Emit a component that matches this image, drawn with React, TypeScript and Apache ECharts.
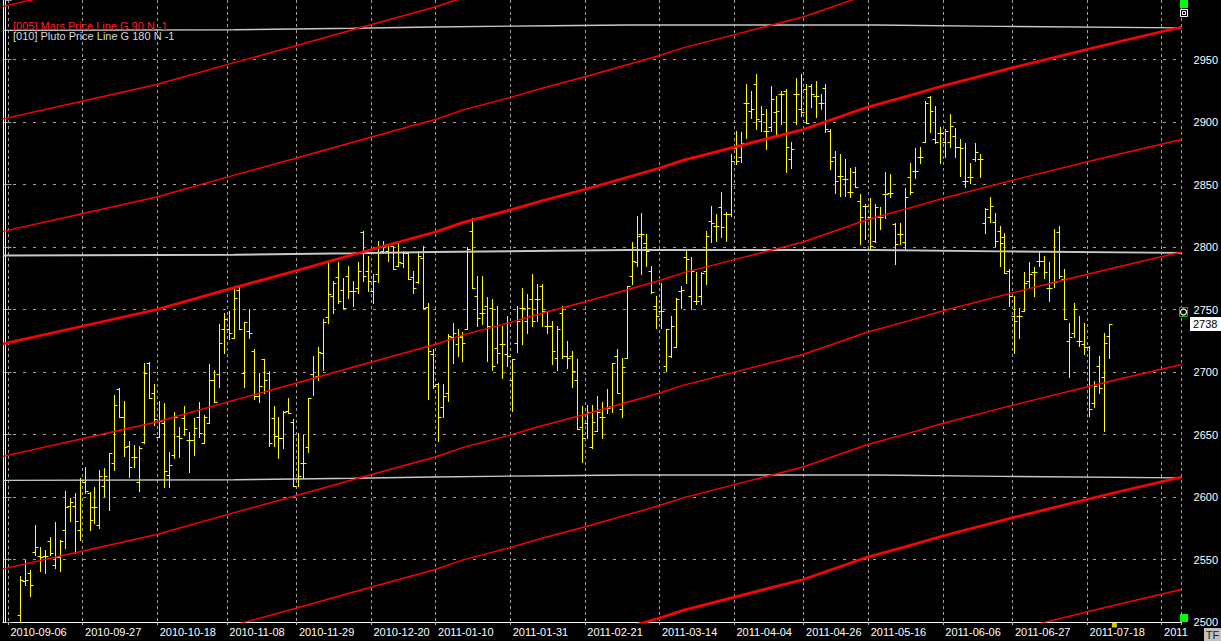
import React, { useEffect, useRef } from "react";
import * as echarts from "echarts";

// ---------- data ----------
const firstBar = 3; // slot index of the first OHLC bar
// [open, high, low, close]
const ohlc: [number, number, number, number][] = [
  [2506, 2537, 2501, 2534], [2533, 2550, 2530, 2534], [2539, 2542, 2521, 2530], [2556, 2578, 2554, 2560],
  [2553, 2560, 2541, 2552], [2553, 2558, 2539, 2553], [2565, 2568, 2554, 2555], [2546, 2580, 2543, 2552],
  [2552, 2566, 2541, 2565], [2574, 2605, 2559, 2592], [2593, 2599, 2581, 2596], [2593, 2603, 2555, 2581],
  [2574, 2615, 2566, 2614], [2612, 2624, 2603, 2605], [2603, 2604, 2574, 2582], [2592, 2608, 2579, 2592],
  [2578, 2622, 2575, 2617], [2609, 2623, 2601, 2617], [2614, 2635, 2590, 2635], [2627, 2682, 2622, 2674],
  [2686, 2687, 2664, 2664], [2664, 2677, 2633, 2640], [2641, 2645, 2616, 2624], [2632, 2642, 2624, 2632],
  [2612, 2641, 2605, 2639], [2644, 2707, 2643, 2699], [2707, 2708, 2679, 2679], [2683, 2690, 2658, 2662],
  [2648, 2677, 2648, 2661], [2659, 2675, 2608, 2621], [2618, 2636, 2608, 2626], [2634, 2668, 2631, 2664],
  [2649, 2656, 2632, 2647], [2663, 2673, 2650, 2654], [2646, 2652, 2620, 2646], [2646, 2663, 2634, 2655],
  [2664, 2676, 2648, 2651], [2643, 2666, 2643, 2664], [2659, 2706, 2659, 2694], [2694, 2702, 2676, 2676],
  [2698, 2738, 2688, 2723], [2734, 2747, 2715, 2742], [2734, 2749, 2726, 2731], [2727, 2767, 2727, 2759],
  [2766, 2768, 2734, 2734], [2699, 2740, 2688, 2740], [2733, 2750, 2727, 2731], [2717, 2718, 2678, 2681],
  [2681, 2699, 2676, 2689], [2710, 2710, 2683, 2694], [2699, 2701, 2641, 2643], [2663, 2673, 2641, 2649],
  [2649, 2664, 2631, 2647], [2647, 2669, 2639, 2668], [2669, 2679, 2667, 2667], [2660, 2662, 2609, 2609],
  [2615, 2651, 2609, 2617], [2627, 2650, 2615, 2627], [2640, 2679, 2636, 2679], [2698, 2713, 2682, 2696],
  [2697, 2720, 2694, 2716], [2715, 2742, 2702, 2740], [2744, 2788, 2739, 2762], [2761, 2773, 2747, 2771],
  [2776, 2788, 2755, 2757], [2766, 2775, 2751, 2751], [2777, 2785, 2759, 2765], [2765, 2773, 2753, 2765],
  [2767, 2788, 2763, 2781], [2812, 2813, 2773, 2777], [2781, 2793, 2765, 2773], [2765, 2778, 2755, 2773],
  [2778, 2805, 2772, 2801], [2797, 2805, 2795, 2801], [2797, 2801, 2789, 2796], [2801, 2801, 2782, 2782],
  [2785, 2804, 2785, 2788], [2787, 2797, 2784, 2795], [2795, 2796, 2774, 2774], [2776, 2781, 2763, 2767],
  [2772, 2797, 2771, 2793], [2791, 2801, 2751, 2751], [2752, 2755, 2678, 2717], [2714, 2718, 2687, 2689],
  [2690, 2691, 2645, 2664], [2672, 2690, 2664, 2681], [2683, 2730, 2677, 2729], [2728, 2739, 2707, 2731],
  [2722, 2734, 2713, 2729], [2728, 2732, 2709, 2723], [2734, 2800, 2734, 2798], [2813, 2823, 2767, 2767],
  [2761, 2777, 2737, 2743], [2747, 2777, 2738, 2747], [2753, 2760, 2709, 2737], [2751, 2758, 2702, 2705],
  [2719, 2753, 2707, 2715], [2722, 2737, 2695, 2722], [2714, 2745, 2705, 2713], [2694, 2710, 2669, 2710],
  [2723, 2753, 2716, 2741], [2751, 2767, 2722, 2751], [2741, 2762, 2731, 2751], [2758, 2778, 2737, 2741],
  [2758, 2770, 2741, 2758], [2769, 2770, 2737, 2749], [2737, 2749, 2731, 2737], [2737, 2741, 2706, 2717],
  [2711, 2737, 2702, 2734], [2747, 2753, 2711, 2713], [2713, 2725, 2703, 2711], [2713, 2717, 2688, 2701],
  [2694, 2710, 2654, 2654], [2656, 2673, 2628, 2647], [2659, 2674, 2647, 2668], [2640, 2674, 2639, 2660],
  [2653, 2681, 2653, 2668], [2664, 2676, 2647, 2664], [2671, 2686, 2667, 2671], [2673, 2707, 2668, 2707],
  [2713, 2718, 2683, 2683], [2670, 2711, 2664, 2704], [2711, 2769, 2711, 2769], [2777, 2804, 2770, 2789],
  [2788, 2825, 2785, 2809], [2810, 2827, 2778, 2810], [2803, 2810, 2785, 2797], [2781, 2785, 2763, 2764],
  [2753, 2761, 2735, 2745], [2749, 2771, 2735, 2749], [2705, 2734, 2701, 2734], [2713, 2745, 2712, 2737],
  [2720, 2759, 2720, 2758], [2765, 2769, 2751, 2766], [2792, 2797, 2771, 2790], [2761, 2792, 2750, 2781],
  [2757, 2780, 2754, 2757], [2761, 2780, 2754, 2779], [2781, 2813, 2770, 2809], [2821, 2833, 2804, 2819],
  [2817, 2826, 2805, 2817], [2832, 2844, 2808, 2816], [2826, 2828, 2805, 2826], [2826, 2874, 2825, 2869],
  [2879, 2893, 2866, 2869], [2872, 2892, 2868, 2883], [2915, 2930, 2887, 2915], [2909, 2925, 2903, 2910],
  [2930, 2938, 2894, 2902], [2901, 2913, 2893, 2906], [2893, 2910, 2878, 2893], [2896, 2929, 2893, 2918],
  [2908, 2921, 2890, 2909], [2922, 2925, 2898, 2922], [2925, 2926, 2860, 2880], [2870, 2884, 2863, 2878],
  [2922, 2935, 2898, 2922], [2910, 2938, 2905, 2908], [2926, 2930, 2899, 2899], [2929, 2930, 2912, 2922],
  [2921, 2933, 2904, 2921], [2915, 2922, 2910, 2915], [2927, 2930, 2892, 2894], [2893, 2894, 2862, 2869],
  [2872, 2877, 2843, 2853], [2857, 2874, 2841, 2857], [2854, 2870, 2841, 2854], [2844, 2863, 2840, 2844],
  [2860, 2864, 2848, 2848], [2837, 2842, 2802, 2824], [2833, 2834, 2806, 2833], [2824, 2839, 2798, 2801],
  [2805, 2834, 2804, 2832], [2824, 2832, 2814, 2824], [2842, 2860, 2823, 2842], [2843, 2858, 2840, 2843],
  [2818, 2819, 2786, 2802], [2810, 2819, 2802, 2810], [2804, 2847, 2798, 2840], [2856, 2867, 2842, 2844],
  [2861, 2879, 2855, 2861], [2872, 2880, 2867, 2872], [2884, 2917, 2884, 2915], [2920, 2921, 2892, 2909],
  [2886, 2913, 2883, 2884], [2891, 2896, 2867, 2891], [2884, 2894, 2872, 2893], [2884, 2906, 2880, 2897],
  [2889, 2895, 2872, 2880], [2880, 2886, 2857, 2879], [2853, 2883, 2848, 2853], [2856, 2867, 2851, 2856],
  [2870, 2883, 2869, 2876], [2870, 2874, 2856, 2870], [2819, 2831, 2811, 2830], [2824, 2840, 2820, 2833],
  [2820, 2827, 2801, 2805], [2813, 2817, 2785, 2803], [2808, 2811, 2779, 2779], [2781, 2782, 2753, 2761],
  [2745, 2761, 2715, 2741], [2745, 2751, 2727, 2745], [2749, 2780, 2749, 2771], [2773, 2788, 2768, 2778],
  [2780, 2784, 2761, 2780], [2789, 2797, 2785, 2789], [2789, 2793, 2775, 2780], [2767, 2788, 2757, 2767],
  [2772, 2814, 2768, 2772], [2812, 2817, 2775, 2777], [2774, 2782, 2742, 2742], [2725, 2739, 2696, 2728],
  [2731, 2755, 2728, 2750], [2725, 2745, 2721, 2725], [2722, 2739, 2714, 2720], [2720, 2721, 2665, 2670],
  [2675, 2693, 2672, 2689], [2705, 2713, 2683, 2687], [2696, 2731, 2653, 2723], [2729, 2738, 2711, 2738],
];

const slotCount = 237;
const xTickIndex = [0, 15, 30, 44, 58, 73, 86, 101, 116, 131, 146, 160, 173, 188, 202, 217, 232];
const xTickLabels = [
  "2010-09-06", "2010-09-27", "2010-10-18", "2010-11-08", "2010-11-29", "2010-12-20",
  "2011-01-10", "2011-01-31", "2011-02-21", "2011-03-14", "2011-04-04", "2011-04-26",
  "2011-05-16", "2011-06-06", "2011-06-27", "2011-07-18", "2011",
];

const yMin = 2500;
const yMax = 2997.6;
const yInterval = 50;

// Mars price line (G 90): base harmonic, [slot, price]
const marsBase: [number, number][] = [
  [-0.5, 2722.5], [15.4, 2736.6], [30.4, 2750], [46.9, 2768.5], [58.4, 2781], [70.9, 2795],
  [86.4, 2812], [91.9, 2819.5], [101.4, 2829.5], [107.9, 2837], [116.4, 2846], [131.4, 2863],
  [136.4, 2869.5], [146.4, 2879.7], [160.4, 2894], [173.4, 2912], [181.4, 2920.7], [188.4, 2928.8],
  [202.4, 2943.3], [217.4, 2958], [224.9, 2965.2], [236.5, 2976],
];
const marsOffsets = [-450, -360, -270, -180, -90, 0, 90, 180, 270];
const marsThick = [0, -360];

// Pluto price line (G 180)
const plutoBase: [number, number][] = [
  [-0.5, 2793.3], [46, 2793.8], [70, 2795], [86, 2796], [110, 2797], [125, 2797.6],
  [175, 2797.6], [200, 2796.5], [236.5, 2795.3],
];
const plutoOffsets = [-180, 0, 180];

const lastPrice = 2738;

const legendLines = [
  { text: "[005] Mars Price Line G 90 N -1", color: "#ff2020" },
  { text: "[010] Pluto Price Line G 180 N -1", color: "#d8d8d8" },
];

const FONT = '"Liberation Sans", Arial, sans-serif';

export default function App() {
  const ref = useRef<HTMLDivElement>(null);

  useEffect(() => {
    if (!ref.current) return;
    const chart = echarts.init(ref.current, null, { renderer: "svg" });

    const labelByCat = new Map<number, string>();
    xTickIndex.forEach((k, i) => labelByCat.set(k + 1, xTickLabels[i]));
    const categories = Array.from({ length: slotCount }, (_, i) => String(i));

    const barData = ohlc.map((b, i) => [firstBar + i, b[0], b[1], b[2], b[3]]);

    const renderItem = (_params: any, api: any) => {
      const i = api.value(0);
      const pO = api.coord([i, api.value(1)]);
      const pH = api.coord([i, api.value(2)]);
      const pL = api.coord([i, api.value(3)]);
      const pC = api.coord([i, api.value(4)]);
      const x = Math.floor(pO[0]) + 0.5;
      const r = (v: number) => Math.round(v) + 0.5;
      const style = { stroke: "#ffff00", lineWidth: 1 };
      return {
        type: "group",
        children: [
          { type: "line", shape: { x1: x, y1: Math.round(pH[1]), x2: x, y2: Math.round(pL[1]) + 1 }, style },
          { type: "line", shape: { x1: x - 3, y1: r(pO[1]), x2: x, y2: r(pO[1]) }, style },
          { type: "line", shape: { x1: x, y1: r(pC[1]), x2: x + 3, y2: r(pC[1]) }, style },
        ],
      };
    };

    const plutoSeries = plutoOffsets.map((off) => ({
      type: "line",
      xAxisIndex: 1,
      yAxisIndex: 0,
      data: plutoBase.map(([c, p]) => [c, p + off]),
      symbol: "none",
      silent: true,
      clip: true,
      z: 3,
      lineStyle: { color: "#c8c8c8", width: off === 0 ? 2 : 1.3 },
    }));

    const marsSeries = marsOffsets.map((off) => ({
      type: "line",
      xAxisIndex: 1,
      yAxisIndex: 0,
      data: marsBase.map(([c, p]) => [c, p + off]),
      symbol: "none",
      silent: true,
      clip: true,
      z: 4,
      lineStyle: { color: "#ff0000", width: marsThick.includes(off) ? 2.8 : 1.4 },
    }));

    const option: any = {
      animation: false,
      backgroundColor: "#000000",
      grid: { left: 3, right: 33, top: 0, bottom: 19, containLabel: false },
      xAxis: [
        {
          type: "category",
          data: categories,
          boundaryGap: true,
          axisLine: { show: true, lineStyle: { color: "#ffffff", width: 1 } },
          axisTick: {
            show: true,
            length: 3,
            interval: (idx: number) => labelByCat.has(idx),
            lineStyle: { color: "#bbbbbb" },
          },
          axisLabel: {
            show: true,
            interval: (idx: number) => labelByCat.has(idx),
            formatter: (_v: string, idx: number) => labelByCat.get(idx) ?? "",
            color: "#ffffff",
            fontSize: 11,
            fontFamily: FONT,
            align: "left",
            margin: 4,
          },
          splitLine: {
            show: true,
            interval: (idx: number) => labelByCat.has(idx),
            lineStyle: { color: "#a0a0a0", width: 1, type: [3, 3] },
          },
        },
        { type: "value", min: -0.5, max: slotCount - 0.5, show: false },
      ],
      yAxis: [
        {
          type: "value",
          position: "right",
          min: yMin,
          max: yMax,
          interval: yInterval,
          axisLine: { show: true, lineStyle: { color: "#ffffff", width: 1 } },
          axisTick: { show: true, length: 6, lineStyle: { color: "#a0a0a0" } },
          axisLabel: {
            color: "#ffffff",
            fontSize: 11,
            fontFamily: FONT,
            margin: 12,
            formatter: (v: number) => (v % yInterval === 0 ? String(v) : ""),
          },
          splitLine: {
            show: true,
            showMaxLine: false,
            lineStyle: { color: "#a0a0a0", width: 1, type: [3, 7] },
          },
        },
        {
          type: "value",
          position: "left",
          min: yMin,
          max: yMax,
          axisLine: { show: true, lineStyle: { color: "#ffffff", width: 1 } },
          axisTick: { show: false },
          axisLabel: { show: false },
          splitLine: { show: false },
        },
      ],
      series: [
        {
          type: "custom",
          xAxisIndex: 0,
          yAxisIndex: 0,
          data: barData,
          encode: { x: 0, y: [1, 2, 3, 4] },
          renderItem,
          clip: true,
          silent: true,
          z: 2,
        },
        ...plutoSeries,
        ...marsSeries,
        {
          type: "scatter",
          xAxisIndex: 0,
          yAxisIndex: 0,
          data: [[firstBar + ohlc.length, yMin]],
          symbol: "rect",
          symbolSize: [5, 5],
          symbolOffset: [0, 3],
          itemStyle: { color: "#ffff00" },
          clip: false,
          silent: true,
          z: 5,
        },
      ],
    };

    chart.setOption(option);

    const py = chart.convertToPixel({ yAxisIndex: 0 }, lastPrice) as number;
    const gridRight = 1188;
    chart.setOption({
      graphic: [
        ...legendLines.map((l, i) => ({
          type: "text",
          left: 13,
          top: 20 + i * 10,
          silent: true,
          z: 20,
          style: { text: l.text, fill: l.color, font: `11px ${FONT}` },
        })),
        // current price tag
        {
          type: "rect",
          silent: true,
          z: 20,
          shape: { x: gridRight + 2, y: Math.round(py) - 7, width: 40, height: 14 },
          style: { fill: "#ffffff" },
        },
        {
          type: "text",
          silent: true,
          z: 21,
          x: gridRight + 5,
          y: Math.round(py),
          style: { text: String(lastPrice), fill: "#000000", font: `11px ${FONT}`, verticalAlign: "middle" },
        },
        // corner decorations
        { type: "rect", silent: true, z: 20, shape: { x: gridRight - 8, y: 0, width: 8, height: 8 }, style: { fill: "#00ff00" } },
        { type: "rect", silent: true, z: 20, shape: { x: gridRight - 7.5, y: 9.5, width: 7, height: 7 }, style: { fill: "#000000", stroke: "#ffffff", lineWidth: 1 } },
        { type: "rect", silent: true, z: 21, shape: { x: gridRight - 5.5, y: 11.5, width: 3, height: 3 }, style: { fill: "none", stroke: "#ffffff", lineWidth: 1 } },
        { type: "rect", silent: true, z: 20, shape: { x: gridRight - 8.5, y: 307.5, width: 8, height: 9 }, style: { fill: "#000000", stroke: "#00c000", lineWidth: 1 } },
        { type: "circle", silent: true, z: 21, shape: { cx: gridRight - 4.5, cy: 312, r: 3 }, style: { fill: "#000000", stroke: "#ffffff", lineWidth: 1.2 } },
        { type: "rect", silent: true, z: 20, shape: { x: gridRight - 8, y: 614, width: 8, height: 8 }, style: { fill: "#00ff00" } },
        // TF box
        { type: "rect", silent: true, z: 20, shape: { x: 1204, y: 628, width: 17, height: 13 }, style: { fill: "#c0c0c0" } },
        {
          type: "text",
          silent: true,
          z: 21,
          x: 1212.5,
          y: 635,
          style: { text: "TF", fill: "#202020", font: `11px ${FONT}`, align: "center", verticalAlign: "middle" },
        },
      ],
    });

    return () => chart.dispose();
  }, []);

  return (
    <div
      ref={ref}
      style={{ position: "fixed", left: 0, top: 0, width: 1221, height: 641, background: "#000" }}
    />
  );
}
